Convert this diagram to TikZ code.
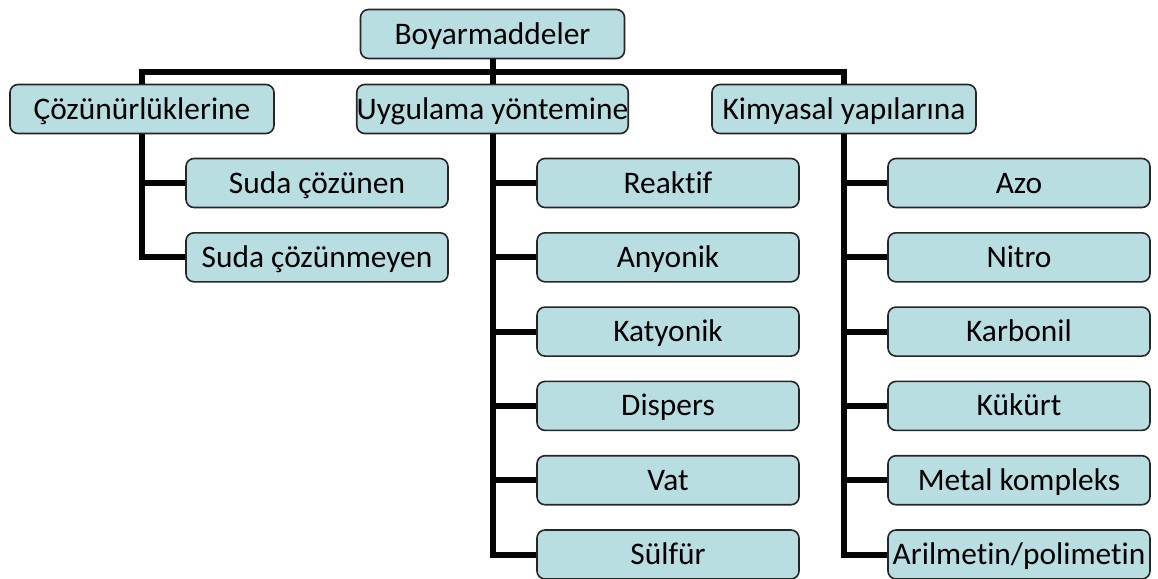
\documentclass[tikz,border=0pt]{standalone}
\usepackage{fontspec}
\setmainfont{Carlito}[Ligatures=NoCommon]
\usetikzlibrary{positioning}
\definecolor{boxFill}{RGB}{184,222,226}
\definecolor{boxLine}{gray}{0.15}
\definecolor{linkBlack}{gray}{0.02}

\begin{document}
\begin{tikzpicture}[x=0.5pt, y=-0.5pt,
    box/.style={draw=boxLine, line width=0.8pt, fill=boxFill, rounded corners=4pt,
      minimum width=132pt, minimum height=24.5pt, inner sep=0pt,
      text height=11.5pt, text depth=1.5pt,
      font=\fontsize{15.7}{18}\selectfont},
    leaf/.style={box, minimum width=131pt},
    link/.style={line width=3pt, linkBlack}]
  \useasboundingbox (0,0) rectangle (1158,579);
  % top and first level
  \node[box] (root) at (492.5,34) {Boyarmaddeler};
  \node[box] (cozun) at (142,109) {Çözünürlüklerine};
  \node[box] (uygul) at (492.5,109) {Uygulama yöntemine};
  \node[box] (kimya) at (844,109) {Kimyasal yapılarına};
  \coordinate (bar) at (492.5,72);
  \draw[link] (root) -- (uygul);
  \draw[link] (cozun.north) |- (bar) -| (kimya.north);
  % leaves
  \foreach \name/\txt [count=\i from 0] in {sc1/Suda çözünen, sc2/Suda çözünmeyen} {
    \node[leaf] (\name) at (317,183+74.3*\i) {\txt};
    \draw[link] (cozun.south) |- (\name.west);
  }
  \foreach \name/\txt [count=\i from 0] in {reak/Reaktif, anyo/Anyonik, katy/Katyonik,
      disp/Dispers, vat/Vat, sulf/Sülfür} {
    \node[leaf] (\name) at (668,183+74.3*\i) {\txt};
    \draw[link] (uygul.south) |- (\name.west);
  }
  \foreach \name/\txt [count=\i from 0] in {azo/Azo, nitro/Nitro, karb/Karbonil,
      kukurt/Kükürt, metal/Metal kompleks, aril/{Arilmetin/polimetin}} {
    \node[leaf] (\name) at (1019,183+74.3*\i) {\txt};
    \draw[link] (kimya.south) |- (\name.west);
  }
\end{tikzpicture}
\end{document}
